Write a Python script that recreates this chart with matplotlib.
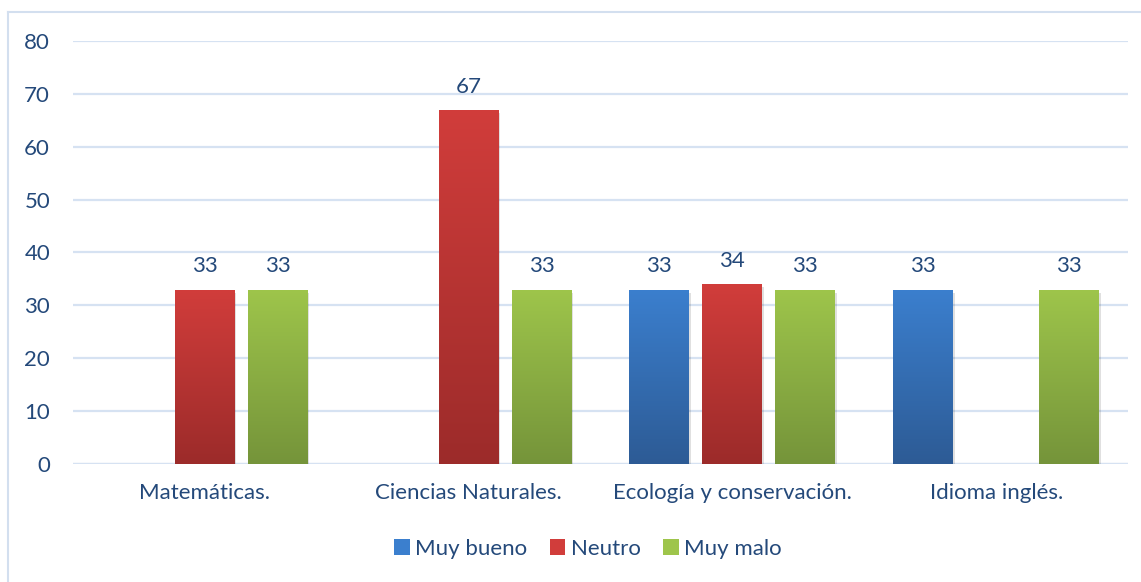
import matplotlib.pyplot as plt
from matplotlib.colors import LinearSegmentedColormap
from matplotlib.lines import Line2D
from matplotlib.patches import Patch
import numpy as np

# --- data ---
categories = ["Matemáticas.", "Ciencias Naturales.", "Ecología y conservación.", "Idioma inglés."]
series_names = ["Muy bueno", "Neutro", "Muy malo"]
muy_bueno = [None, None, 33, 33]
neutro = [33, 67, 34, None]
muy_malo = [33, 33, 33, 33]

# top / bottom gradient colours per series
grad_colors = [("#3B7FCE", "#2D5B95"), ("#D13D3B", "#9C2B2A"), ("#9EC54B", "#75943A")]
TEXT = "#24497A"
GRID = "#D6E2F2"
FS = 16

plt.rcParams['font.family'] = ['Lato', 'DejaVu Sans']

W, H = 1141, 582
fig = plt.figure(figsize=(W / 100, H / 100), dpi=100)
ax = fig.add_axes([73 / W, 1 - 464 / H, (1128 - 73) / W, (464 - 41) / H])

x = np.arange(len(categories))
bw = 60 / 263.75
step = 73 / 263.75

for i, (vals, (ctop, cbot)) in enumerate(zip([muy_bueno, neutro, muy_malo], grad_colors)):
    cmap = LinearSegmentedColormap.from_list("g%d" % i, [cbot, ctop])
    xs = x + (i - 1) * step
    for xi, v in zip(xs, vals):
        if v is None:
            continue
        # soft drop shadow
        ax.bar(xi + 0.006, v, bw, bottom=-0.6, color="#000000", alpha=0.12, zorder=2, linewidth=0)
        bar = ax.bar(xi, v, bw, color=ctop, zorder=3, linewidth=0)[0]
        grad = np.linspace(0, 1, 256).reshape(-1, 1)
        im = ax.imshow(grad, cmap=cmap, origin="lower", aspect="auto",
                       extent=(xi - bw / 2, xi + bw / 2, 0, v), zorder=4)
        im.set_clip_path(bar)
        ax.text(xi, v + 2.5, str(v), ha="center", va="bottom", fontsize=FS, color=TEXT, zorder=5)

ax.set_xlim(-0.5, len(categories) - 0.5)
ax.set_ylim(0, 80)
ax.set_yticks(range(0, 81, 10))
ax.set_xticks(x)
ax.set_xticklabels(categories)
ax.tick_params(axis="both", length=0, labelsize=FS, labelcolor=TEXT)
ax.tick_params(axis="y", pad=16.5)
ax.tick_params(axis="x", pad=14)

ax.grid(axis="y", color=GRID, linewidth=1.6, zorder=0)
ax.set_axisbelow(True)
for s in ax.spines.values():
    s.set_visible(False)
ax.axhline(0, color=GRID, linewidth=1.6, zorder=1)

handles = [Patch(facecolor=c[0], edgecolor="none") for c in grad_colors]
fig.legend(handles, series_names, loc="center", bbox_to_anchor=(588 / W, 1 - 549 / H),
           ncol=3, frameon=False, fontsize=FS, labelcolor=TEXT,
           handlelength=0.7, handleheight=0.7, handletextpad=0.25, columnspacing=1.0)

# outer chart frame
fig.add_artist(Line2D([8 / W, 8 / W], [0, 1 - 12 / H], color="#D3DFEF", linewidth=1.5))
fig.add_artist(Line2D([8 / W, 1], [1 - 12 / H, 1 - 12 / H], color="#D3DFEF", linewidth=1.5))

fig.savefig("out.png", dpi=100)
